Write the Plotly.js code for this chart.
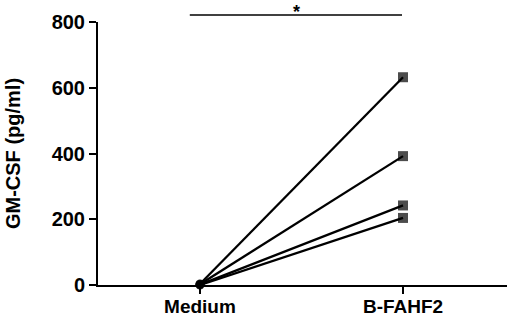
<!DOCTYPE html>
<html><head><meta charset="utf-8">
<script src="https://cdn.plot.ly/plotly-3.0.1.min.js"></script>
<style>html,body{margin:0;padding:0;background:#fff;}#chart{width:510px;height:317px;}</style>
</head><body><div id="chart"></div>
<script>
const categories = ["Medium", "B-FAHF2"];
const medium = [3, 2, 1, 0];
const bfahf2 = [632, 392, 242, 204];
const yTicks = [0, 200, 400, 600, 800];
const sigLabel = "*";

const traces = medium.map((m, i) => ({
  x: [0, 1], y: [m, bfahf2[i]],
  mode: "lines+markers", type: "scatter",
  line: {color: "#000", width: 2.3},
  marker: {color: "#000", size: [9, 10], symbol: ["circle", "square"], line: {width: 0}},
  showlegend: false, hoverinfo: "skip", cliponaxis: false
}));

const font = {family: "Liberation Sans, Arial, sans-serif", size: 20, color: "#000", weight: "bold"};
const xfont = {family: "Liberation Sans, Arial, sans-serif", size: 19, color: "#000", weight: "bold"};
const layout = {
  width: 510, height: 317,
  margin: {l: 98, r: 3, t: 22, b: 32},
  paper_bgcolor: "#fff", plot_bgcolor: "#fff",
  font: font,
  xaxis: {
    range: [-0.502, 1.512], tickvals: [0, 1], ticktext: categories,
    showgrid: false, zeroline: false, showline: true, linecolor: "#000", linewidth: 2,
    ticks: "outside", ticklen: 7, tickwidth: 2, tickcolor: "#000",
    tickfont: xfont, ticklabelstandoff: -4
  },
  yaxis: {
    range: [0, 800], tickvals: yTicks,
    showgrid: false, zeroline: false, showline: true, linecolor: "#000", linewidth: 2,
    ticks: "outside", ticklen: 7, tickwidth: 2, tickcolor: "#000",
    tickfont: font,
    title: {text: "GM-CSF (pg/ml)", font: font, standoff: 26}
  },
  shapes: [{type: "line", xref: "x", yref: "paper", x0: -0.05, x1: 0.995, y0: 1.027, y1: 1.027,
            line: {color: "#000", width: 1.5}}],
  annotations: [{x: 0.475, y: 1.085, xref: "x", yref: "paper", text: sigLabel, showarrow: false,
                 yanchor: "top", font: {family: "Liberation Sans, Arial", size: 18, color: "#000", weight: "bold"}}]
};
Plotly.newPlot("chart", traces, layout, {staticPlot: true, displayModeBar: false});
</script></body></html>
